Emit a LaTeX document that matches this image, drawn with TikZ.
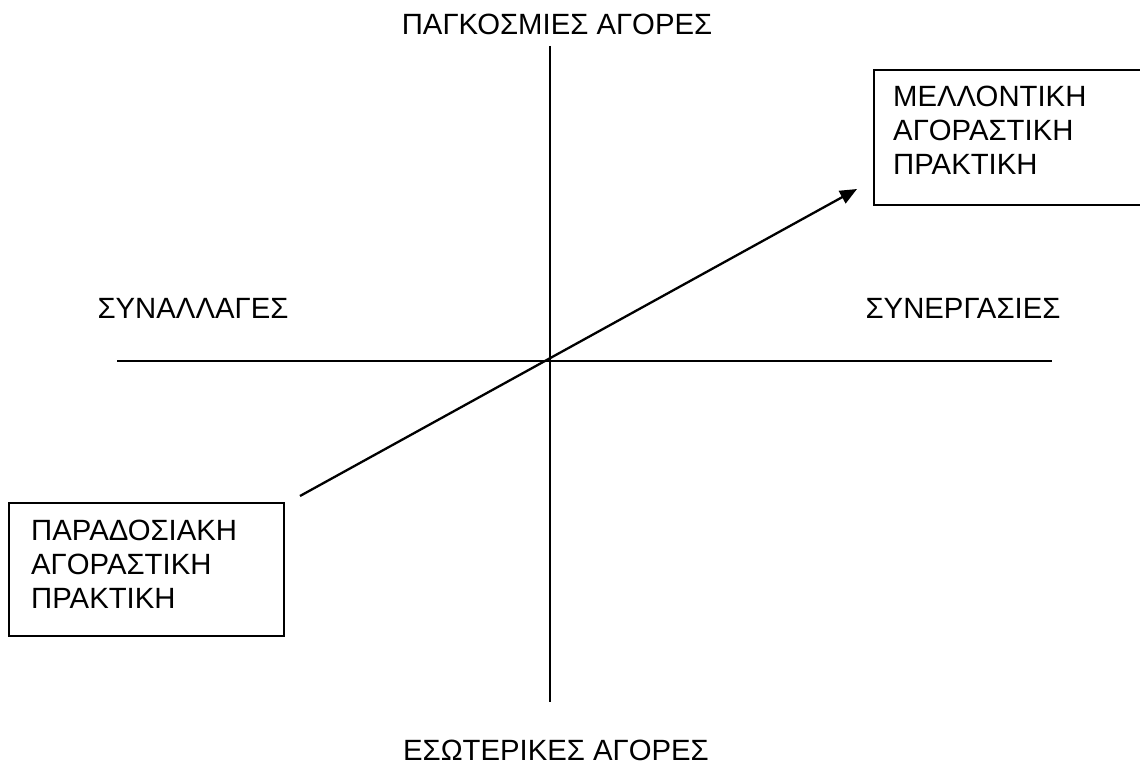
\documentclass[tikz,border=0pt]{standalone}
\usepackage{fontspec}
\setmainfont{Liberation Sans}
\usetikzlibrary{arrows.meta}
\begin{document}
\begin{tikzpicture}[x=1pt,y=-1pt,
  axisline/.style={line width=2.2pt},
  boxframe/.style={draw, line width=2pt, inner sep=0pt},
  lbl/.style={font=\fontsize{29.3}{34}\selectfont, inner sep=0pt},
  boxtext/.style={lbl, align=left, anchor=base west},
  shiftarrow/.style={line width=2.3pt, -{Triangle[length=17pt,width=14pt]}}]
\useasboundingbox (0,0) rectangle (1140,767);

% axes
\coordinate (top) at (550,46);
\coordinate (bottom) at (550,702);
\coordinate (left) at (117,361);
\coordinate (right) at (1052,361);
\draw[axisline] (top) -- (bottom);
\draw[axisline] (left) -- (right);

% axis labels
\node[lbl, anchor=base] (global) at (557,35) {ΠΑΓΚΟΣΜΙΕΣ ΑΓΟΡΕΣ};
\node[lbl, anchor=base] (domestic) at (556,760) {ΕΣΩΤΕΡΙΚΕΣ ΑΓΟΡΕΣ};
\node[lbl, anchor=base] (transactions) at (193,318) {ΣΥΝΑΛΛΑΓΕΣ};
\node[lbl, anchor=base] (partnerships) at (963,318) {ΣΥΝΕΡΓΑΣΙΕΣ};

% purchasing practice boxes (text placed by the baseline of its last line)
\node[boxframe, minimum width=271pt, minimum height=135pt, anchor=north west] (futurebox) at (873,69) {};
\node[boxtext] (future) at (893,175) {ΜΕΛΛΟΝΤΙΚΗ\\ΑΓΟΡΑΣΤΙΚΗ\\ΠΡΑΚΤΙΚΗ};

\node[boxframe, minimum width=275pt, minimum height=133pt, anchor=north west] (pastbox) at (8,502) {};
\node[boxtext] (past) at (31,608) {ΠΑΡΑΔΟΣΙΑΚΗ\\ΑΓΟΡΑΣΤΙΚΗ\\ΠΡΑΚΤΙΚΗ};

% shift from traditional to future practice
\coordinate (shiftstart) at (300,496);
\coordinate (shiftend) at (857,189);
\draw[shiftarrow] (shiftstart) -- (shiftend);
\end{tikzpicture}
\end{document}
